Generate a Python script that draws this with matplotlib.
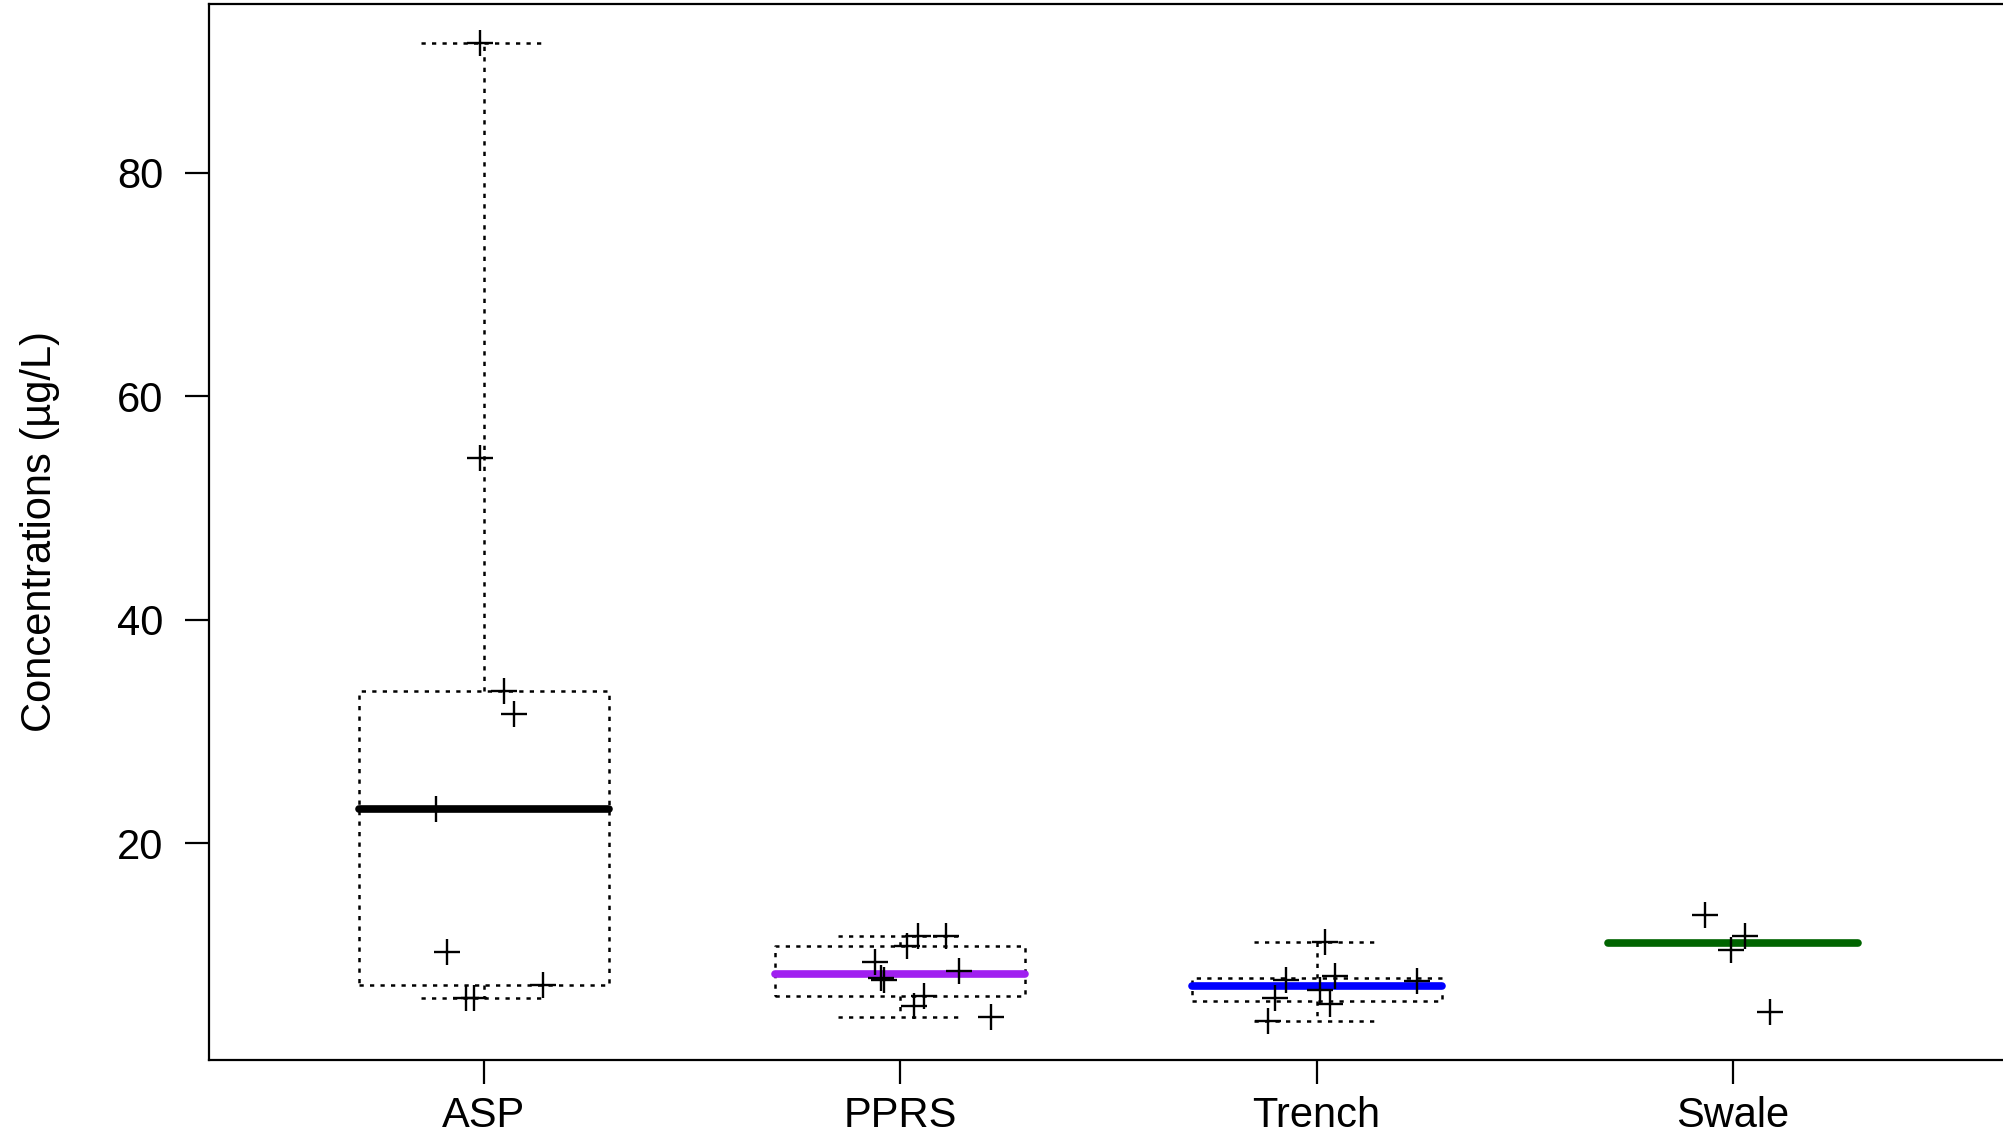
import numpy as np
import matplotlib.pyplot as plt

plt.rcParams['font.family'] = ['Liberation Sans', 'DejaVu Sans']

# groups and median line colours
groups = ["ASP", "PPRS", "Trench", "Swale"]
median_colors = ["black", "#A020F0", "#0000FF", "#006400"]

# concentrations (ug/L), with the horizontal jitter of each point
asp = [91.6, 54.5, 33.65, 31.55, 23.1, 10.3, 7.35, 6.2, 6.2]
asp_jit = [-0.010, -0.010, 0.048, 0.073, -0.114, -0.088, 0.141, -0.042, -0.024]
pprs = [11.68, 11.68, 10.84, 9.35, 7.95, 7.8, 8.61, 6.37, 5.48, 4.43]
pprs_jit = [0.042, 0.111, 0.017, -0.061, -0.047, -0.040, 0.140, 0.056, 0.032, 0.218]
trench = [11.14, 7.77, 8.1, 6.9, 7.65, 6.16, 5.6, 4.13]
trench_jit = [0.021, -0.073, 0.045, 0.007, 0.241, -0.100, 0.031, -0.117]
swale = [13.59, 11.74, 10.46, 4.88]
swale_jit = [-0.067, 0.030, -0.005, 0.089]

data = [asp, pprs, trench, swale]
jitter = [asp_jit, pprs_jit, trench_jit, swale_jit]


def fivenum(v):
    # Tukey hinges, like R's fivenum()
    s = np.sort(np.asarray(v, dtype=float))
    n = len(s)
    n4 = np.floor((n + 3) / 2) / 2
    d = np.array([1, n4, (n + 1) / 2, n + 1 - n4, n]) - 1
    return 0.5 * (s[np.floor(d).astype(int)] + s[np.ceil(d).astype(int)])


fig = plt.figure(figsize=(20.03, 11.34), dpi=100)
ax = fig.add_axes([0.1044, 0.0653, 0.898, 0.9312])

dotted = (0, (1.7, 2.5))
for i, (vals, col) in enumerate(zip(data, median_colors)):
    lo, q1, med, q3, hi = fivenum(vals)
    stats = [dict(med=med, q1=q1, q3=q3, whislo=lo, whishi=hi, fliers=[])]
    show = groups[i] != "Swale"
    ax.bxp(stats, positions=[i + 1], widths=0.6, showfliers=False,
           showbox=show, showcaps=show,
           boxprops=dict(color="black", lw=1.8, linestyle=dotted),
           whiskerprops=dict(color="black", lw=1.8, linestyle=dotted, visible=show),
           capprops=dict(color="black", lw=1.8, linestyle=dotted),
           capwidths=0.3,
           medianprops=dict(color=col, lw=5.5, solid_capstyle="round"))
    ax.plot(np.array(jitter[i]) + i + 1, vals, linestyle="none", marker="+",
            markersize=19, markeredgewidth=1.7, color="black", zorder=5)

allv = np.concatenate([np.asarray(v) for v in data])
r = allv.max() - allv.min()
ax.set_ylim(allv.min() - 0.04 * r, allv.max() + 0.04 * r)
ax.set_xlim(0.5 - 0.16, 4.5 + 0.16)

ax.set_xticks(range(1, 5))
ax.set_xticklabels(groups)
ax.set_yticks([20, 40, 60, 80])
ax.tick_params(direction="out", length=17, width=1.6, labelsize=30)
ax.tick_params(axis="x", pad=9)
ax.tick_params(axis="y", pad=16)
for sp in ax.spines.values():
    sp.set_linewidth(1.6)

ax.set_ylabel("Concentrations (µg/L)", fontsize=30)
ax.yaxis.set_label_coords(-0.083, 0.5)

fig.savefig("out.png", dpi=100)
